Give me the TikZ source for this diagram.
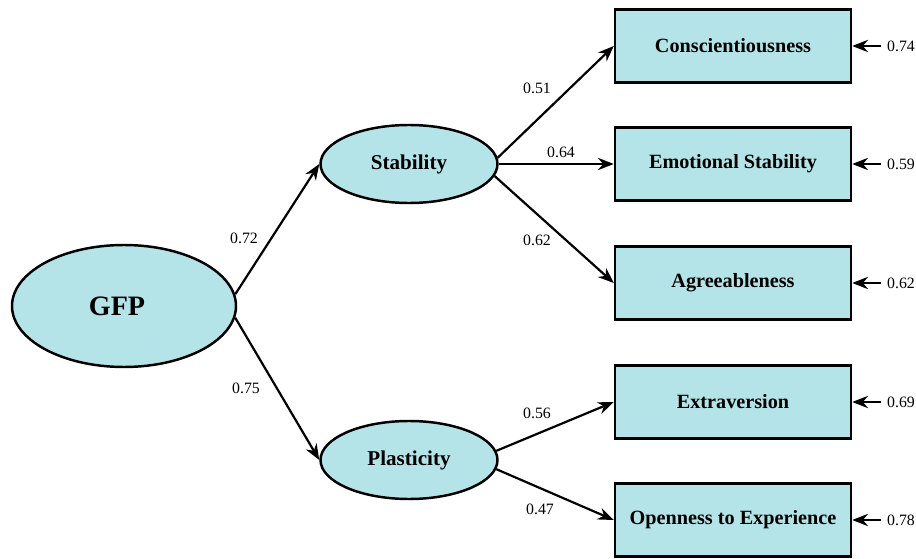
\documentclass[tikz,border=0pt]{standalone}
\usepackage{fontspec}
\setmainfont{Liberation Serif}
\usetikzlibrary{arrows.meta,shapes.geometric}
\definecolor{factorfill}{RGB}{180,228,232}
\begin{document}
\begin{tikzpicture}[
    latent/.style={ellipse, draw, line width=1.4pt, fill=factorfill, inner sep=0pt, font=\bfseries\fontsize{12}{14}\selectfont},
    observed/.style={rectangle, draw, line width=1.4pt, fill=factorfill, minimum width=4.72cm, minimum height=1.46cm, font=\bfseries\fontsize{11.5}{13}\selectfont},
    path/.style={-{Stealth[length=9pt,width=7pt]}, line width=1.25pt},
    loading/.style={font=\small},
]

    % Fix the size of the picture
    \useasboundingbox (0, 0) rectangle (18.32, 11.16);

    % Latent factors
    % General factor on the left, the two higher-order factors in the middle
    \node[latent, minimum width=4.48cm, minimum height=2.44cm] (GFP) at (2.48, 5.04) {};
    \node[font=\bfseries\fontsize{16}{18}\selectfont] (GFPtext) at (2.34, 5.04) {GFP};
    \node[latent, minimum width=3.54cm, minimum height=1.56cm] (Stab) at (8.18, 7.88) {Stability};
    \node[latent, minimum width=3.54cm, minimum height=1.56cm] (Plas) at (8.18, 1.96) {Plasticity};

    % Observed traits
    \node[observed] (Cons) at (14.66, 10.24) {Conscientiousness};
    \node[observed] (Emot) at (14.66, 7.88) {Emotional Stability};
    \node[observed] (Agre) at (14.66, 5.50) {Agreeableness};
    \node[observed] (Extr) at (14.66, 3.12) {Extraversion};
    \node[observed] (Open) at (14.66, 0.76) {Openness to Experience};

    % Paths from GFP
    \draw[path] (GFP.6) -- (Stab.west);
    \draw[path] (GFP.-6) -- (Plas.west);

    % Paths from Stability and Plasticity
    \draw[path] (Stab.4) -- (Cons.west);
    \draw[path] (Stab.east) -- (Emot.west);
    \draw[path] (Stab.-8) -- (Agre.west);
    \draw[path] (Plas.6) -- (Extr.west);
    \draw[path] (Plas.-6) -- (Open.west);

    % Loadings
    \node[loading] (l72) at (4.88, 6.40) {0.72};
    \node[loading] (l75) at (4.92, 3.40) {0.75};
    \node[loading] (l51) at (10.74, 9.40) {0.51};
    \node[loading] (l64) at (11.22, 8.12) {0.64};
    \node[loading] (l62) at (10.74, 6.36) {0.62};
    \node[loading] (l56) at (10.74, 2.90) {0.56};
    \node[loading] (l47) at (10.80, 0.98) {0.47};

    % Residuals on the right
    \node[loading, anchor=west] (eCons) at (17.62, 10.24) {0.74};
    \node[loading, anchor=west] (eEmot) at (17.62, 7.88) {0.59};
    \node[loading, anchor=west] (eAgre) at (17.62, 5.50) {0.62};
    \node[loading, anchor=west] (eExtr) at (17.62, 3.12) {0.69};
    \node[loading, anchor=west] (eOpen) at (17.62, 0.76) {0.78};
    \draw[path] (eCons.west) -- (Cons.east);
    \draw[path] (eEmot.west) -- (Emot.east);
    \draw[path] (eAgre.west) -- (Agre.east);
    \draw[path] (eExtr.west) -- (Extr.east);
    \draw[path] (eOpen.west) -- (Open.east);

\end{tikzpicture}
\end{document}
